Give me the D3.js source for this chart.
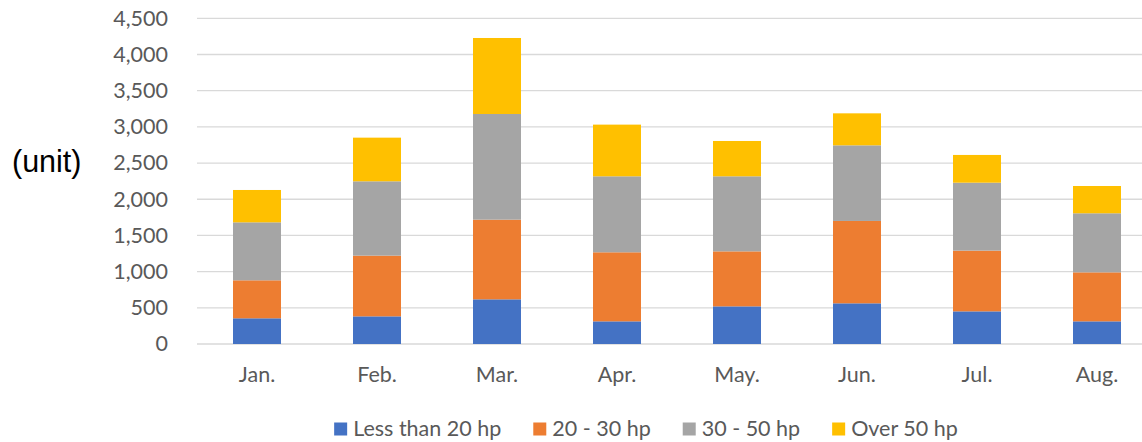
<!DOCTYPE html>
<html>
<head>
<meta charset="utf-8">
<script src="https://cdn.jsdelivr.net/npm/d3@7"></script>
<style>
  body { margin: 0; background: #fff; }
  svg { display: block; }
</style>
</head>
<body>
<script>
var months = ["Jan.", "Feb.", "Mar.", "Apr.", "May.", "Jun.", "Jul.", "Aug."];
var seriesNames = ["Less than 20 hp", "20 - 30 hp", "30 - 50 hp", "Over 50 hp"];
var under20 = [355, 382, 617, 313, 520, 562, 451, 313];
var from20to30 = [525, 839, 1101, 954, 760, 1138, 839, 677];
var from30to50 = [801, 1027, 1460, 1050, 1037, 1045, 939, 816];
var over50 = [447, 603, 1050, 714, 488, 442, 383, 377];
var yTicks = [0, 500, 1000, 1500, 2000, 2500, 3000, 3500, 4000, 4500];
var colors = ["#4472C4", "#ED7D31", "#A5A5A5", "#FFC000"];

var width = 1142, height = 442;
var plotLeft = 197, plotRight = 1157, plotTop = 18.3, plotBottom = 344;
var font = "Lato, 'Open Sans', sans-serif";
var fontSize = "21.5px";

var svg = d3.select("body")
    .append("svg")
    .attr("width", width)
    .attr("height", height);

// build rows for the stack
var rows = months.map(function(m, i) {
    return { month: m, s0: under20[i], s1: from20to30[i], s2: from30to50[i], s3: over50[i] };
});
var keys = ["s0", "s1", "s2", "s3"];
var stacked = d3.stack().keys(keys)(rows);

var x = d3.scaleBand().domain(months).range([plotLeft, plotRight]).paddingInner(0.6).paddingOuter(0.3);
var y = d3.scaleLinear().domain([0, 4500]).range([plotBottom, plotTop]);

// gridlines
svg.append("g")
    .selectAll("line")
    .data(yTicks)
    .join("line")
    .attr("x1", plotLeft)
    .attr("x2", width)
    .attr("y1", function(d) { return y(d); })
    .attr("y2", function(d) { return y(d); })
    .attr("stroke", "#d9d9d9")
    .attr("stroke-width", 1.3);

// y axis labels
var yAxis = svg.append("g")
    .attr("transform", "translate(" + (plotLeft - 29) + ",0)")
    .call(d3.axisLeft(y).tickValues(yTicks).tickSize(0).tickPadding(0).tickFormat(d3.format(",")));
yAxis.select(".domain").remove();
yAxis.selectAll("text")
    .attr("fill", "#595959")
    .style("font-family", font)
    .style("font-size", fontSize);

// bars
svg.append("g")
    .selectAll("g")
    .data(stacked)
    .join("g")
    .attr("fill", function(d, i) { return colors[i]; })
    .selectAll("rect")
    .data(function(d) { return d; })
    .join("rect")
    .attr("x", function(d) { return x(d.data.month); })
    .attr("width", x.bandwidth())
    .attr("y", function(d) { return y(d[1]); })
    .attr("height", function(d) { return y(d[0]) - y(d[1]); });

// x axis labels
var xAxis = svg.append("g")
    .attr("transform", "translate(0," + plotBottom + ")")
    .call(d3.axisBottom(x).tickSize(0).tickPadding(23));
xAxis.select(".domain").remove();
xAxis.selectAll("text")
    .attr("fill", "#595959")
    .style("font-family", font)
    .style("font-size", fontSize);

// unit label
svg.append("text")
    .attr("x", 12)
    .attr("y", 172)
    .attr("fill", "#000")
    .style("font-family", "'Liberation Sans', Arial, sans-serif")
    .style("font-size", "30.5px")
    .text("(unit)");

// legend
var legend = svg.append("g");
var items = legend.selectAll("g")
    .data(seriesNames)
    .join("g");
items.append("rect")
    .attr("width", 13)
    .attr("height", 13)
    .attr("y", 422.5)
    .attr("fill", function(d, i) { return colors[i]; });
items.append("text")
    .attr("x", 19)
    .attr("y", 435.5)
    .attr("fill", "#595959")
    .style("font-family", font)
    .style("font-size", fontSize)
    .text(function(d) { return d; });

var offsets = [];
var cur = 0;
items.each(function() {
    offsets.push(cur);
    var w = d3.select(this).select("text").node().getComputedTextLength();
    cur += 19 + w + 32;
});
var total = cur - 32;
var legendLeft = 646 - total / 2;
items.attr("transform", function(d, i) { return "translate(" + (legendLeft + offsets[i]) + ",0)"; });
</script>
</body>
</html>
